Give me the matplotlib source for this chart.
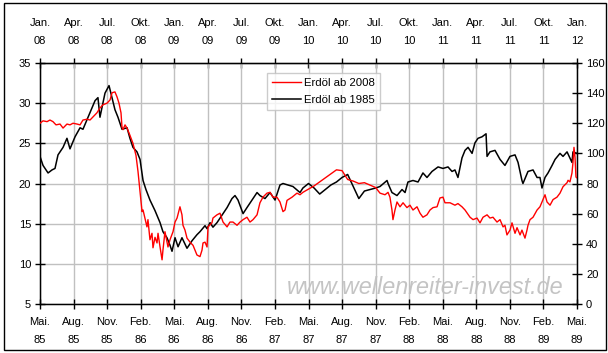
import numpy as np
import matplotlib
matplotlib.use("Agg")
import matplotlib.pyplot as plt
from matplotlib.patches import Rectangle

plt.rcParams['font.family'] = ['Liberation Sans', 'DejaVu Sans']

# ---------------- data ----------------
bottom_labels = ['Mai.\n85', 'Aug.\n85', 'Nov.\n85', 'Feb.\n86', 'Mai.\n86', 'Aug.\n86',
                 'Nov.\n86', 'Feb.\n87', 'Mai.\n87', 'Aug.\n87', 'Nov.\n87', 'Feb.\n88',
                 'Mai.\n88', 'Aug.\n88', 'Nov.\n88', 'Feb.\n89', 'Mai.\n89']
top_labels = ['Jan.\n08', 'Apr.\n08', 'Jul.\n08', 'Okt.\n08', 'Jan.\n09', 'Apr.\n09',
              'Jul.\n09', 'Okt.\n09', 'Jan.\n10', 'Apr.\n10', 'Jul.\n10', 'Okt.\n10',
              'Jan.\n11', 'Apr.\n11', 'Jul.\n11', 'Okt.\n11', 'Jan.\n12']

# red series: months since May 1985 and price (left axis)
months_1985 = [0.00, 0.27, 0.63, 0.89, 1.16, 1.43, 1.79, 2.06, 2.41, 2.68,
               2.95, 3.31, 3.58, 3.84, 4.20, 4.47, 4.74, 5.09, 5.36, 5.63,
               5.99, 6.26, 6.44, 6.70, 6.88, 7.06, 7.24, 7.33, 7.42, 7.60,
               7.78, 8.04, 8.31, 8.58, 8.76, 8.94, 9.12, 9.21, 9.56, 9.65,
               9.83, 10.01, 10.10, 10.28, 10.46, 10.55, 10.73, 10.91, 10.99, 11.17,
               11.35, 11.44, 11.62, 11.89, 12.07, 12.25, 12.51, 12.69, 12.78, 12.96,
               13.14, 13.41, 13.68, 14.03, 14.30, 14.48, 14.57, 14.75, 14.93, 15.02,
               15.37, 15.46, 15.82, 16.09, 16.36, 16.72, 16.98, 17.25, 17.61, 17.88,
               18.15, 18.50, 18.77, 19.04, 19.40, 19.66, 19.93, 20.29, 20.56, 20.83,
               21.18, 21.45, 21.72, 21.90, 22.08, 22.53, 22.97, 23.24,
               23.5, 24.0, 24.5, 25.0, 25.5, 26.0, 26.5, 27.0, 27.5, 28.0,
               28.5, 29.0, 29.5, 30.0,
               30.39, 30.84, 31.11, 31.28, 31.46, 31.55, 31.73, 31.91, 32.18, 32.45,
               32.80, 33.07, 33.34, 33.70, 33.97, 34.23, 34.59, 34.86, 35.13, 35.49,
               35.75, 36.02, 36.20, 36.65, 37.09, 37.36, 37.72, 37.99, 38.44, 38.71,
               39.06, 39.33, 39.60, 39.96, 40.22, 40.49, 40.85, 41.12, 41.39, 41.56,
               41.74, 42.01, 42.19, 42.46, 42.64, 42.91, 43.08, 43.35, 43.53, 43.62,
               43.80, 44.07, 44.43, 44.69, 44.96, 45.14, 45.32, 45.59, 45.86, 46.21,
               46.48, 46.75, 47.11, 47.20, 47.37, 47.55, 47.64, 47.73, 47.82, 47.91,
               48.00]
oil_1985 = [27.5, 27.8, 27.7, 27.9, 27.7, 27.3, 27.4, 26.9, 27.4, 27.3,
            27.5, 27.4, 27.3, 27.9, 28.0, 27.9, 28.3, 28.8, 29.4, 29.8,
            30.0, 30.4, 31.3, 31.4, 30.8, 30.0, 28.8, 27.0, 26.7, 27.3,
            26.9, 26.0, 25.0, 23.5, 21.5, 19.0, 16.5, 16.7, 14.6, 15.5,
            13.0, 13.8, 12.0, 13.3, 12.6, 13.8, 12.1, 10.5, 11.7, 14.0,
            12.7, 12.1, 13.0, 14.0, 15.2, 15.7, 17.1, 16.1, 14.8, 14.2,
            13.2, 12.7, 12.3, 11.1, 10.9, 11.7, 12.6, 12.7, 12.1, 14.6,
            15.1, 15.7, 16.1, 16.3, 15.2, 14.6, 15.2, 15.2, 14.8, 15.2,
            15.5, 15.8, 15.2, 15.5, 16.1, 17.6, 18.3, 18.8, 18.9, 18.3,
            18.3, 17.7, 16.5, 16.7, 17.9, 18.3, 18.8, 18.6,
            18.9, 19.3, 19.7, 20.2, 20.7, 21.2, 21.7, 21.6, 20.5, 20.3,
            20.0, 20.1, 19.8, 19.5,
            18.8, 18.6, 18.9, 18.3, 16.7, 15.5, 16.7, 17.7, 17.1, 17.6,
            17.0, 17.3, 16.7, 17.1, 16.3, 15.8, 16.1, 16.7, 17.0, 17.1,
            18.2, 18.3, 17.6, 17.6, 17.3, 17.5, 17.1, 16.7, 15.8, 15.5,
            15.7, 15.1, 15.8, 16.1, 15.7, 15.8, 15.2, 15.5, 14.6, 14.8,
            13.6, 14.2, 15.1, 13.8, 14.5, 13.6, 14.2, 13.2, 14.2, 14.8,
            15.5, 15.8, 16.7, 17.1, 18.0, 18.6, 17.7, 17.3, 18.0, 18.3,
            18.8, 19.6, 20.1, 20.4, 20.2, 21.3, 22.6, 24.5, 23.3, 20.8,
            20.7]

# black series: months since Jan 2008 and price (right axis)
months_2008 = [0.00, 0.27, 0.72, 1.07, 1.34, 1.61, 2.06, 2.41, 2.68, 3.13,
               3.58, 3.84, 4.47, 4.92, 5.18, 5.36, 5.81, 6.17, 6.44, 6.70,
               6.97, 7.33, 7.78, 8.04, 8.31, 8.67, 8.94, 9.21, 9.47, 9.83,
               10.28, 10.73, 10.99, 11.35, 11.62, 11.80, 12.07, 12.34, 12.69, 13.14,
               13.59, 14.03, 14.30, 14.75, 14.93, 15.20, 15.46, 15.82, 16.27, 16.72,
               17.16, 17.43, 17.70, 18.15, 18.50, 18.95, 19.40, 19.66, 20.11, 20.56,
               21.01, 21.45, 21.72, 22.17, 22.61, 23.24,
               23.5, 24.0, 24.5, 25.0, 25.5, 26.0, 26.5, 27.0, 27.5, 28.0,
               28.5, 29.0, 29.5, 30.0,
               30.39, 31.02, 31.11, 31.46, 31.91, 32.36, 32.63, 32.89, 33.34, 33.79,
               34.23, 34.59, 35.04, 35.58, 36.02, 36.47, 36.83, 37.09, 37.36, 37.72,
               37.99, 38.26, 38.62, 38.88, 39.15, 39.51, 39.87, 39.96, 40.22, 40.67,
               41.12, 41.56, 42.01, 42.46, 42.73, 43.08, 43.17, 43.62, 44.07, 44.43,
               44.69, 44.87, 45.14, 45.41, 45.77, 46.04, 46.48, 46.75, 47.11, 47.55,
               47.64, 48.00]
oil_2008 = [98, 92, 87, 89, 90, 99, 104, 110, 103, 111,
            117, 116, 127, 135, 137, 124, 140, 145, 137, 129,
            124, 116, 117, 110, 104, 101, 96, 82, 76, 69,
            62, 54, 48, 44, 39, 35, 44, 38, 44, 37,
            42, 46, 48, 52, 50, 54, 51, 54, 59, 64,
            70, 72, 69, 60, 64, 69, 74, 72, 70, 74,
            69, 79, 80, 79, 78, 74,
            77, 80, 77, 73, 76, 79, 81, 84, 86, 78,
            70, 75, 76, 77,
            78, 82, 80, 74, 72, 76, 74, 81, 82, 81,
            87, 84, 88, 91, 90, 91, 88, 89, 84, 97,
            102, 104, 100, 107, 110, 111, 113, 98, 101, 102,
            96, 92, 98, 99, 94, 82, 80, 88, 89, 84,
            84, 77, 84, 87, 92, 96, 100, 98, 101, 94,
            101, 100]

label_red = 'Erdöl ab 2008'
label_black = 'Erdöl ab 1985'

tick_pos = np.arange(0, 49, 3)

# ---------------- figure ----------------
W, H = 608, 353
fig = plt.figure(figsize=(W / 100, H / 100), dpi=100)
rect = [40 / W, 1 - 304 / H, 537 / W, 241 / H]

axL = fig.add_axes(rect)
axL.set_xlim(0, 48)
axL.set_ylim(5, 35)
axL.set_yticks(np.arange(5, 36, 5))
axL.set_xticks(tick_pos)
axL.set_xticklabels(bottom_labels, linespacing=2.0)
axL.grid(True, color='#C0C0C0', lw=1.0)
axL.set_axisbelow(True)
axL.tick_params(axis='x', direction='inout', length=7, width=1, pad=6, labelsize=8)
axL.tick_params(axis='y', direction='inout', length=7, width=1, pad=3, labelsize=8)
for s in axL.spines.values():
    s.set_linewidth(1.0)
    s.set_color('black')

axL.text(0.717, 0.07, 'www.wellenreiter-invest.de', transform=axL.transAxes,
         ha='center', va='center', style='italic', color='#C4C4C4',
         fontsize=16.8, zorder=0.5)

top = axL.secondary_xaxis('top')
top.set_xticks(tick_pos)
top.set_xticklabels(top_labels, linespacing=2.0)
top.tick_params(direction='inout', length=7, width=1, pad=9, labelsize=8)

axR = axL.twinx()
axR.set_ylim(0, 160)
axR.set_yticks(np.arange(0, 161, 20))
axR.tick_params(axis='y', direction='inout', length=7, width=1, pad=3, labelsize=8)
axR.patch.set_visible(False)
lb, = axR.plot(months_2008, oil_2008, color='black', lw=1.1, label=label_black)

axRed = fig.add_axes(rect, sharex=axL, sharey=axL)
axRed.patch.set_visible(False)
axRed.axis('off')
lr, = axRed.plot(months_1985, oil_1985, color='red', lw=1.0, label=label_red)

leg = fig.legend(handles=[lr, lb], loc='upper left',
                 bbox_to_anchor=(267 / W, 1 - 73 / H), bbox_transform=fig.transFigure,
                 fontsize=8.2, frameon=True, fancybox=False, borderaxespad=0,
                 handlelength=2.5, handletextpad=0.3, labelspacing=0.6,
                 borderpad=0.45)
leg.get_frame().set_edgecolor('#C0C0C0')
leg.get_frame().set_linewidth(1.0)

fig.patches.append(Rectangle((4 / W, 1 - 350 / H), 602 / W, 347 / H,
                             transform=fig.transFigure, fill=False,
                             edgecolor='black', lw=1.0))

fig.savefig('out.png', dpi=100)
